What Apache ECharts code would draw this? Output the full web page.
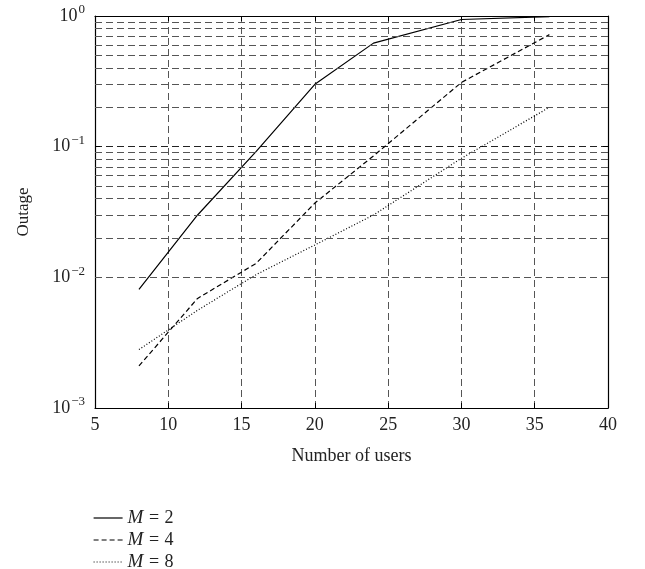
<!DOCTYPE html>
<html>
<head>
<meta charset="utf-8">
<script src="https://cdn.jsdelivr.net/npm/echarts@6/dist/echarts.min.js"></script>
<style>html,body{margin:0;padding:0;background:#fff;}#c{width:645px;height:569px;}</style>
</head>
<body>
<div id="c"></div>
<script>
const users = [8, 12, 16, 20, 24, 30, 36];
const outageM2 = [0.0081, 0.030, 0.092, 0.30, 0.62, 0.94, 0.99];
const outageM4 = [0.0021, 0.0069, 0.0128, 0.037, 0.085, 0.31, 0.72];
const outageM8 = [0.0028, 0.0056, 0.0105, 0.0177, 0.030, 0.0815, 0.20];
const seriesNames = ['M = 2', 'M = 4', 'M = 8'];
const xTicks = [5, 10, 15, 20, 25, 30, 35, 40];
const minorGrid = [0.002,0.003,0.004,0.005,0.006,0.007,0.008,0.009,
                   0.02,0.03,0.04,0.05,0.06,0.07,0.08,0.09,
                   0.2,0.3,0.4,0.5,0.6,0.7,0.8,0.9];

const FONT = 'Liberation Serif';
const gridColor = '#555';
const chart = echarts.init(document.getElementById('c'), null, {renderer: 'canvas'});

function pts(arr) { return users.map((u, i) => [u, arr[i]]); }

const option = {
  animation: false,
  backgroundColor: '#fff',
  grid: {left: 95, right: 37, top: 16, bottom: 161},
  legend: {
    orient: 'vertical', left: 93, bottom: -3, padding: 0,
    itemWidth: 29, itemHeight: 12, itemGap: 2,
    data: seriesNames,
    itemStyle: {color: 'rgba(0,0,0,0)', borderColor: 'rgba(0,0,0,0)', borderWidth: 0},
    lineStyle: {width: 1.2},
    formatter: function (n) { return '{i|M} {e|=} ' + n.split('= ')[1]; },
    textStyle: {fontFamily: FONT, fontSize: 18, color: '#222', lineHeight: 20,
      rich: {
        i: {fontFamily: FONT, fontStyle: 'italic', fontSize: 19, color: '#222', lineHeight: 20},
        e: {fontFamily: FONT, fontSize: 18, color: '#222', lineHeight: 20, padding: [0, 1]}
      }}
  },
  xAxis: [{
    type: 'value', min: 5, max: 40, interval: 5,
    name: 'Number of users', nameLocation: 'middle', nameGap: 39,
    nameTextStyle: {fontFamily: FONT, fontSize: 18, color: '#222'},
    axisLine: {lineStyle: {color: '#000', width: 1.2}},
    axisTick: {inside: true, length: 5, lineStyle: {color: '#000'}},
    axisLabel: {fontFamily: FONT, fontSize: 18, color: '#222', margin: 8},
    splitLine: {show: true, lineStyle: {color: gridColor, type: [7, 4], width: 1}}
  }, {
    type: 'value', min: 5, max: 40, interval: 5, position: 'top',
    axisLine: {show: true, lineStyle: {color: '#000', width: 1.2}},
    axisTick: {inside: true, length: 5, lineStyle: {color: '#000'}},
    axisLabel: {show: false}, splitLine: {show: false}
  }],
  yAxis: [{
    type: 'log', logBase: 10, min: 0.001, max: 1,
    name: 'Outage', nameLocation: 'middle', nameGap: 63,
    nameTextStyle: {fontFamily: FONT, fontSize: 17, color: '#222'},
    axisLine: {show: true, lineStyle: {color: '#000', width: 1.2}},
    axisTick: {inside: true, length: 5, lineStyle: {color: '#000'}},
    axisLabel: {
      fontFamily: FONT, fontSize: 18, color: '#222', margin: 10,
      formatter: function (v) {
        const e = Math.round(Math.log10(v));
        return '10{s|' + (e < 0 ? '\u2212' + (-e) : e) + '}';
      },
      rich: {s: {fontFamily: FONT, fontSize: 13, color: '#222', verticalAlign: 'top', padding: [0, 0, 12, 1]}}
    },
    splitLine: {show: true, lineStyle: {color: '#222', type: [7, 4], width: 1}}
  }, {
    type: 'log', logBase: 10, min: 0.001, max: 1, position: 'right',
    axisLine: {show: true, lineStyle: {color: '#000', width: 1.2}},
    axisTick: {show: true, inside: true, length: 5, lineStyle: {color: '#000'}},
    axisLabel: {show: false}, splitLine: {show: false}
  }],
  series: [{
    name: seriesNames[0], type: 'line', data: pts(outageM2), symbol: 'none',
    lineStyle: {color: '#000', width: 1.2, type: 'solid'}, itemStyle: {color: '#000'},
    markLine: {
      silent: true, symbol: 'none', label: {show: false},
      lineStyle: {color: gridColor, type: [7, 4], width: 1},
      data: minorGrid.map(v => ({yAxis: v}))
    },
    z: 3
  }, {
    name: seriesNames[1], type: 'line', data: pts(outageM4), symbol: 'none',
    lineStyle: {color: '#000', width: 1.2, type: [5, 3]}, itemStyle: {color: '#000'}, z: 3
  }, {
    name: seriesNames[2], type: 'line', data: pts(outageM8), symbol: 'none',
    lineStyle: {color: '#000', width: 1.2, type: [1, 2]}, itemStyle: {color: '#000'}, z: 3
  }]
};
chart.setOption(option);
</script>
</body>
</html>
